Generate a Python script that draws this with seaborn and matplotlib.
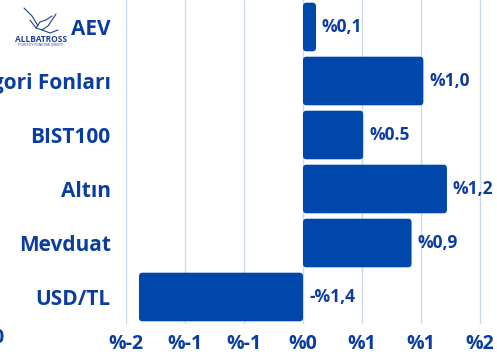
import matplotlib
matplotlib.use("Agg")
import matplotlib.pyplot as plt
import seaborn as sns
import pandas as pd
from matplotlib.patches import FancyBboxPatch
from matplotlib.lines import Line2D

# Data
categories = ['AEV', 'Kategori Fonları', 'BIST100', 'Altın', 'Mevduat', 'USD/TL']
values = [0.11, 1.02, 0.51, 1.22, 0.92, -1.39]
value_labels = ['%0,1', '%1,0', '%0.5', '%1,2', '%0,9', '-%1,4']
x_ticks = [-1.5, -1.0, -0.5, 0.0, 0.5, 1.0, 1.5]
x_tick_labels = ['%-2', '%-1', '%-1', '%0', '%1', '%1', '%2']

bar_color = '#0047ab'
text_color = '#0b3d9f'
grid_color = '#cbd8ef'

sns.set_style('white')
plt.rcParams['font.family'] = ['Open Sans', 'DejaVu Sans']

W, H = 497, 356
fig = plt.figure(figsize=(W / 100, H / 100), dpi=100)
ax = fig.add_axes([126 / W, 32 / H, (W - 126) / W, 324 / H])

df = pd.DataFrame({'cat': categories, 'val': values})
sns.barplot(data=df, x='val', y='cat', orient='h', color=bar_color,
            width=0.9, ax=ax, zorder=3)

ax.set_xlim(-1.5, (W - 303) / 118)
ax.set_ylim(5.5, -0.5)

# swap plain rectangles for slightly rounded bars
px_x = 118.0
px_y = 54.0
for p in list(ax.patches):
    x0, y0, w, h = p.get_x(), p.get_y(), p.get_width(), p.get_height()
    if w < 0:
        x0, w = x0 + w, -w
    p.remove()
    r = 3.5 / px_x
    ax.add_patch(FancyBboxPatch((x0, y0), w, h,
                                boxstyle=f'round,pad=0,rounding_size={r}',
                                mutation_aspect=px_x / px_y,
                                fc=bar_color, ec='none', zorder=3))

for i, (v, lab) in enumerate(zip(values, value_labels)):
    xpos = max(v, 0) + 6 / px_x
    ax.text(xpos, i, lab, va='center', ha='left', fontsize=12.5,
            fontweight='bold', color=text_color, zorder=4)

ax.set_xticks(x_ticks)
ax.set_xticklabels(x_tick_labels)
ax.xaxis.grid(True, color=grid_color, lw=1, zorder=0)
ax.yaxis.grid(False)
ax.tick_params(axis='x', length=0, pad=7, labelsize=14, colors=text_color)
ax.tick_params(axis='y', length=0, pad=11, labelsize=15, colors=text_color)
for lab in ax.get_xticklabels() + ax.get_yticklabels():
    lab.set_fontweight('bold')
ax.set_xlabel('')
ax.set_ylabel('')
sns.despine(ax=ax, left=True, bottom=True)

# stray clipped tick label at far left
fig.text(-0.004, 8 / H, '0', ha='center', va='bottom', fontsize=14,
         fontweight='bold', color=text_color)

# logo
logo_c = '#1f3f8f'
bird = [
    [(30, 20), (36, 28), (42, 30), (48, 26), (56, 14)],
    [(24, 8), (32, 16), (38, 26)],
    [(42, 30), (50, 33), (58, 30)],
    [(36, 28), (40, 22), (46, 20), (52, 16)],
]
for seg in bird:
    xs = [p[0] / W for p in seg]
    ys = [1 - p[1] / H for p in seg]
    fig.add_artist(Line2D(xs, ys, color=logo_c, lw=0.8))
fig.text(41 / W, 1 - 39 / H, 'ALLBATROSS', ha='center', va='center',
         fontsize=6, fontweight='bold', color=logo_c)
fig.text(41 / W, 1 - 45 / H, 'PORTFÖY YÖNETİMİ ŞİRKETİ', ha='center',
         va='center', fontsize=2.4, color=logo_c)

fig.savefig('out.png', dpi=100)
